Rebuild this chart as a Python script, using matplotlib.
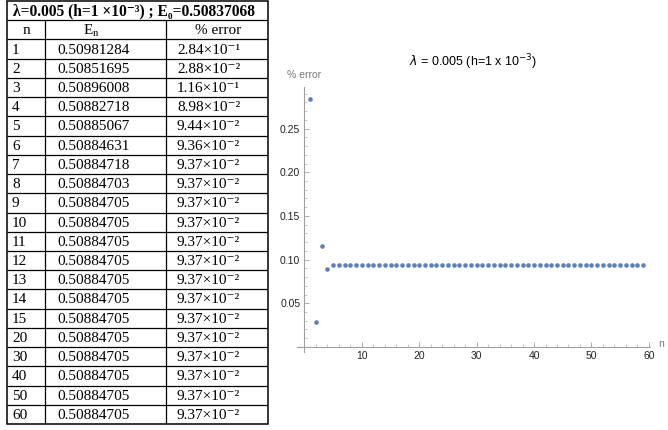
import matplotlib
matplotlib.use('Agg')
import matplotlib.pyplot as plt
from matplotlib.patches import Rectangle
from matplotlib.ticker import MultipleLocator, FormatStrFormatter

# table data
tab_n = [1, 2, 3, 4, 5, 6, 7, 8, 9, 10, 11, 12, 13, 14, 15, 20, 30, 40, 50, 60]
tab_En = ['0.50981284', '0.50851695', '0.50896008', '0.50882718', '0.50885067',
          '0.50884631', '0.50884718', '0.50884703', '0.50884705', '0.50884705',
          '0.50884705', '0.50884705', '0.50884705', '0.50884705', '0.50884705',
          '0.50884705', '0.50884705', '0.50884705', '0.50884705', '0.50884705']
err_mant = ['2.84', '2.88', '1.16', '8.98', '9.44', '9.36', '9.37', '9.37', '9.37', '9.37',
            '9.37', '9.37', '9.37', '9.37', '9.37', '9.37', '9.37', '9.37', '9.37', '9.37']
err_exp = [-1, -2, -1, -2, -2, -2, -2, -2, -2, -2,
           -2, -2, -2, -2, -2, -2, -2, -2, -2, -2]

# plot data (% error vs n)
plot_n = list(range(1, 60))
plot_err = [0.284, 0.0288, 0.116, 0.0898, 0.0944, 0.0936, 0.0937, 0.0937, 0.0937, 0.0937,
            0.0937, 0.0937, 0.0937, 0.0937, 0.0937, 0.0937, 0.0937, 0.0937, 0.0937, 0.0937,
            0.0937, 0.0937, 0.0937, 0.0937, 0.0937, 0.0937, 0.0937, 0.0937, 0.0937, 0.0937,
            0.0937, 0.0937, 0.0937, 0.0937, 0.0937, 0.0937, 0.0937, 0.0937, 0.0937, 0.0937,
            0.0937, 0.0937, 0.0937, 0.0937, 0.0937, 0.0937, 0.0937, 0.0937, 0.0937, 0.0937,
            0.0937, 0.0937, 0.0937, 0.0937, 0.0937, 0.0937, 0.0937, 0.0937, 0.0937]

SUP = str.maketrans('-0123456789', '⁻⁰¹²³⁴⁵⁶⁷⁸⁹')

fig = plt.figure(figsize=(6.68, 4.30), dpi=100)

# ---- table ----
serif = ['Liberation Serif', 'DejaVu Serif']
fs = 11
ax_t = fig.add_axes([7 / 668, 1 - 424 / 430, 261 / 668, 423 / 430])
nrows = len(tab_n) + 2
ax_t.set_xlim(0, 1)
ax_t.set_ylim(nrows, 0)
ax_t.axis('off')
col_b = [0, 0.1456, 0.609, 1]
ax_t.add_patch(Rectangle((0, 0), 1, nrows, fill=False, lw=1.1, color='black', clip_on=False))
ax_t.hlines(range(1, nrows), 0, 1, color='black', lw=0.9)
ax_t.vlines(col_b[1:3], 1, nrows, color='black', lw=0.9)

ax_t.text(0.485, 0.55, 'λ=0.005 (h=1 ×10' + '-3'.translate(SUP) + ') ; E₀=0.50837068',
          ha='center', va='center', family=serif, fontsize=11.2, fontweight='bold')
ax_t.text(0.075, 1.55, 'n', ha='center', va='center', family=serif, fontsize=fs)
ax_t.text(0.291, 1.55, r'E$_{\mathrm{n}}$', ha='left', va='center', family=serif, fontsize=fs,
          math_fontfamily='stix')
ax_t.text(0.72, 1.55, '% error', ha='left', va='center', family=serif, fontsize=fs)
for i, (n, e, m, p) in enumerate(zip(tab_n, tab_En, err_mant, err_exp)):
    y = i + 2.55
    ax_t.text(0.019, y, str(n), ha='left', va='center', family=serif, fontsize=fs)
    ax_t.text(0.192, y, e, ha='left', va='center', family=serif, fontsize=fs)
    ax_t.text(0.651, y, m + '×10' + str(p).translate(SUP), ha='left', va='center',
              family=serif, fontsize=fs)

# ---- scatter plot ----
sans = 'Liberation Sans'
ax = fig.add_axes([297 / 668, 0.182, 353 / 668, 0.6163])
ax.scatter(plot_n, plot_err, s=11, color='#5E81B5', zorder=3, linewidths=0)
ax.set_xlim(-1.3, 60.2)
ax.set_ylim(-0.0055, 0.298)
for s in ['top', 'right']:
    ax.spines[s].set_visible(False)
for s in ['left', 'bottom']:
    ax.spines[s].set_position(('data', 0))
    ax.spines[s].set_color('#a0a0a0')
    ax.spines[s].set_linewidth(0.8)
ax.set_xticks([10, 20, 30, 40, 50, 60])
ax.xaxis.set_minor_locator(MultipleLocator(2))
ax.set_yticks([0.05, 0.10, 0.15, 0.20, 0.25])
ax.yaxis.set_minor_locator(MultipleLocator(0.01))
ax.yaxis.set_major_formatter(FormatStrFormatter('%.2f'))
ax.tick_params(which='major', direction='in', length=3.5, width=0.6, color='#a0a0a0',
               labelsize=7.5, labelcolor='#222222', pad=3)
ax.tick_params(which='minor', direction='in', length=2, width=0.5, color='#b0b0b0')
for lab in ax.get_xticklabels() + ax.get_yticklabels():
    lab.set_family(sans)

fig.text(0.708, 0.856, r'$\lambda$ = 0.005 (h=1 x 10$^{-3}$)', ha='center', va='center',
         family=sans, fontsize=9, math_fontfamily='dejavusans')
fig.text(287 / 668, 0.8256, '% error', ha='left', va='center', family=sans,
         fontsize=7.5, color='#777777')
fig.text(658 / 668, 0.199, 'n', ha='left', va='center', family=sans,
         fontsize=7.5, color='#777777')

fig.savefig('out.png', dpi=100)
